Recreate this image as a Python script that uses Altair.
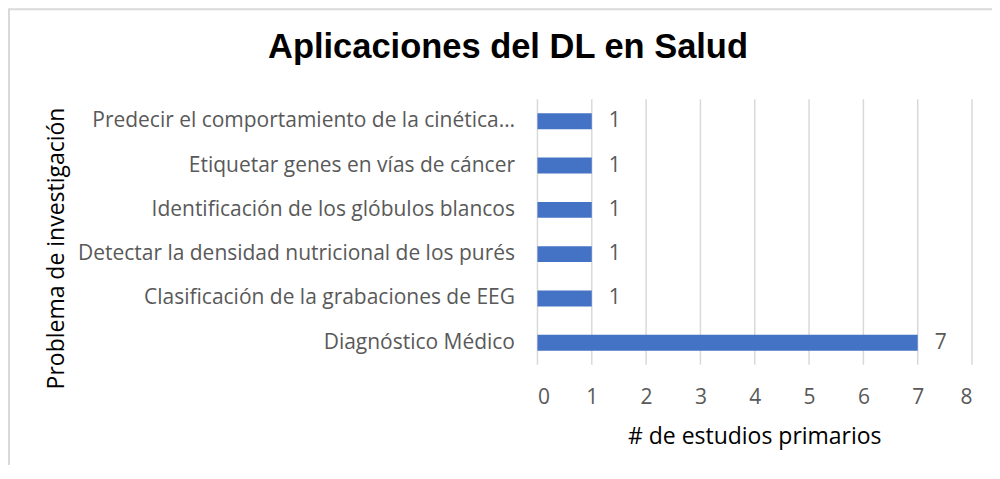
import altair as alt
import pandas as pd

categories = [
    "Predecir el comportamiento de la cinética…",
    "Etiquetar genes en vías de cáncer",
    "Identificación de los glóbulos blancos",
    "Detectar la densidad nutricional de los purés",
    "Clasificación de la grabaciones de EEG",
    "Diagnóstico Médico",
]
values = [1, 1, 1, 1, 1, 7]
x_ticks = [0, 1, 2, 3, 4, 5, 6, 7, 8]

df = pd.DataFrame({"problema": categories, "estudios": values})
grid_df = pd.DataFrame({"tick": x_ticks})
frame_df = pd.DataFrame({"k": [0]})

FONT = "Open Sans"
GRAY = "#595959"

y_enc = alt.Y(
    "problema:N",
    sort=categories,
    scale=alt.Scale(paddingInner=0.64, paddingOuter=0.32),
    axis=alt.Axis(
        title="Problema de investigación",
        titleFont=FONT, titleFontSize=23, titleFontWeight="normal", titleColor="#000000",
        titleAngle=-90, titleX=-481, titleY=149, titleAlign="center", titleBaseline="middle",
        labelFont=FONT, labelFontSize=21, labelColor=GRAY, labelPadding=23, labelLimit=600,
        ticks=False, domain=False, grid=False,
    ),
)
x_scale = alt.Scale(domain=[0, 8], nice=False)
x_axis = alt.Axis(
    values=x_ticks, format="d",
    title="# de estudios primarios",
    titleFont=FONT, titleFontSize=23, titleFontWeight="normal", titleColor="#000000",
    titleX=217, titleY=72, titleAlign="center", titleBaseline="middle",
    labelFont=FONT, labelFontSize=21, labelColor=GRAY, labelPadding=22,
    ticks=False, domain=False, grid=False,
)
x_enc = alt.X("estudios:Q", scale=x_scale, axis=x_axis)

gridlines = alt.Chart(grid_df).mark_rule(color="#d9d9d9", strokeWidth=1.5).encode(
    x=alt.X("tick:Q", scale=x_scale, axis=x_axis),
    y=alt.value(0),
    y2=alt.value(266),
)
bars = alt.Chart(df).mark_bar(color="#4472C4").encode(x=x_enc, y=y_enc)
labels = alt.Chart(df).mark_text(
    align="left", baseline="middle", dx=17, font=FONT, fontSize=21, color=GRAY
).encode(x=x_enc, y=y_enc, text="estudios:Q")

frame_left = alt.Chart(frame_df).mark_rule(color="#d9d9d9", strokeWidth=2).encode(
    x=alt.value(-529), y=alt.value(-90), y2=alt.value(380)
)
frame_top = alt.Chart(frame_df).mark_rule(color="#d9d9d9", strokeWidth=2).encode(
    x=alt.value(-530), x2=alt.value(462), y=alt.value(-90)
)

chart = (
    alt.layer(frame_left, frame_top, gridlines, bars, labels)
    .properties(
        width=435,
        height=266,
        view=alt.ViewBackground(stroke="transparent", strokeWidth=0),
        autosize=alt.AutoSizeParams(type="none"),
        padding={"left": 530, "top": 91, "right": 20, "bottom": 100},
        title=alt.TitleParams(
            "Aplicaciones del DL en Salud",
            font="Liberation Sans", fontSize=34.5, fontWeight="bold", color="#000000",
            anchor="middle", dx=-247, offset=-84, baseline="alphabetic",
        ),
    )
    .configure_view(stroke="transparent", strokeWidth=0, strokeOpacity=0)
    .configure_axis(domain=False)
    .configure(background="white")
)

chart.save("out.html", embed_options={"renderer": "svg", "actions": False})
